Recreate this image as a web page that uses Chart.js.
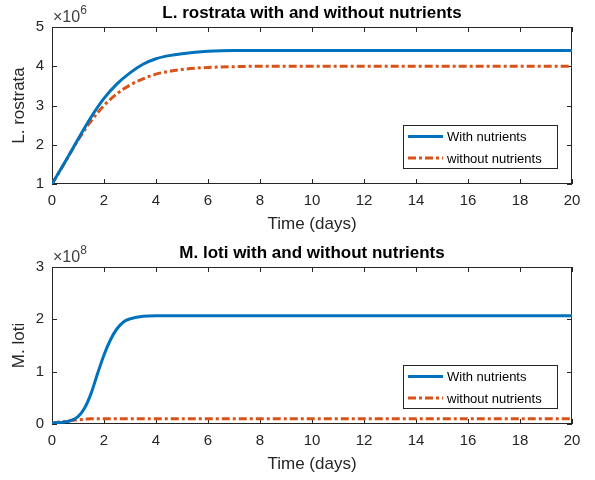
<!DOCTYPE html>
<html lang="en">
<head>
<meta charset="UTF-8">
<title>L. rostrata / M. loti</title>
<style>
  body { margin: 0; background: #fff; }
  .panel { position: absolute; left: 0; width: 595px; height: 240px; }
</style>
<script src="https://cdn.jsdelivr.net/npm/chart.js"></script>
</head>
<body>
<div class="panel" style="top:0"><canvas id="topChart"></canvas></div>
<div class="panel" style="top:240px"><canvas id="bottomChart"></canvas></div>
<script>
// values (top panel x10^6, bottom panel x10^8)
const timeTop = [0, 0.5, 1, 1.5, 2, 2.5, 3, 3.5, 4, 4.5, 5, 6, 7, 8, 10, 12, 14, 16, 18, 20];
const rostrataWith    = [1, 1.56, 2.14, 2.70, 3.18, 3.55, 3.83, 4.05, 4.19, 4.27, 4.32, 4.38, 4.40, 4.40, 4.40, 4.40, 4.40, 4.40, 4.40, 4.40];
const rostrataWithout = [1, 1.55, 2.12, 2.60, 3.00, 3.30, 3.52, 3.68, 3.80, 3.87, 3.92, 3.97, 3.99, 4.00, 4.00, 4.00, 4.00, 4.00, 4.00, 4.00];

const timeBottom = [0, 0.5, 0.75, 1, 1.25, 1.5, 1.75, 2, 2.25, 2.5, 2.75, 3, 3.25, 3.5, 4, 5, 6, 8, 10, 12, 14, 16, 18, 20];
const lotiWith    = [0.02, 0.04, 0.07, 0.14, 0.30, 0.58, 0.96, 1.32, 1.61, 1.82, 1.95, 2.01, 2.04, 2.06, 2.07, 2.07, 2.07, 2.07, 2.07, 2.07, 2.07, 2.07, 2.07, 2.07];
const lotiWithout = [0.02, 0.05, 0.07, 0.08, 0.09, 0.10, 0.10, 0.10, 0.10, 0.10, 0.10, 0.10, 0.10, 0.10, 0.10, 0.10, 0.10, 0.10, 0.10, 0.10, 0.10, 0.10, 0.10, 0.10];

const legendLabels = ['With nutrients', 'without nutrients'];
const xTicks = [0, 2, 4, 6, 8, 10, 12, 14, 16, 18, 20];

const BLUE = '#0072BD';
const ORANGE = '#D95319';
const AXIS = '#262626';
const FONT = "'Liberation Sans', Arial, sans-serif";
const DASHDOT = [8, 3, 3, 3];

function points(xs, ys) {
  return xs.map((x, i) => ({ x: x, y: ys[i] }));
}

// box round the axes + inward ticks, matlab style
const boxPlugin = {
  id: 'box',
  beforeDatasetsDraw(chart) {
    const ctx = chart.ctx, a = chart.chartArea;
    const xs = chart.scales.x, ys = chart.scales.y;
    ctx.save();
    ctx.strokeStyle = AXIS;
    ctx.lineWidth = 1;
    ctx.strokeRect(a.left + 0.5, a.top + 0.5, a.right - a.left - 1, a.bottom - a.top - 1);
    ctx.beginPath();
    xs.ticks.forEach(t => {
      const px = Math.round(xs.getPixelForValue(t.value)) + 0.5;
      ctx.moveTo(px, a.bottom); ctx.lineTo(px, a.bottom - 5);
      ctx.moveTo(px, a.top); ctx.lineTo(px, a.top + 5);
    });
    ys.ticks.forEach(t => {
      const py = Math.round(ys.getPixelForValue(t.value)) + 0.5;
      ctx.moveTo(a.left, py); ctx.lineTo(a.left + 5, py);
      ctx.moveTo(a.right, py); ctx.lineTo(a.right - 5, py);
    });
    ctx.stroke();
    ctx.restore();
  }
};

// "x10^n" label above the y axis
const exponentPlugin = {
  id: 'exponent',
  afterDraw(chart, args, opts) {
    const ctx = chart.ctx, a = chart.chartArea;
    ctx.save();
    ctx.fillStyle = '#404040';
    ctx.textBaseline = 'alphabetic';
    ctx.font = '16px ' + FONT;
    ctx.fillText('\u00d710', a.left + 1, a.top - 5);
    const w = ctx.measureText('\u00d710').width;
    ctx.font = '12px ' + FONT;
    ctx.fillText(String(opts.power), a.left + 1 + w, a.top - 13);
    ctx.restore();
  }
};

// legend box inside the axes, bottom right
const boxLegendPlugin = {
  id: 'boxLegend',
  afterDatasetsDraw(chart) {
    const ctx = chart.ctx, a = chart.chartArea;
    const w = 154, h = 43;
    const left = a.right - 15 - w, top = a.bottom - 16 - h;
    ctx.save();
    ctx.fillStyle = '#fff';
    ctx.fillRect(left, top, w, h);
    ctx.strokeStyle = AXIS;
    ctx.lineWidth = 1;
    ctx.strokeRect(left + 0.5, top + 0.5, w, h);
    ctx.font = '13px ' + FONT;
    ctx.textBaseline = 'middle';
    chart.data.datasets.forEach((ds, i) => {
      const y = top + 11.5 + i * 21.5;
      ctx.strokeStyle = ds.borderColor;
      ctx.lineWidth = ds.borderWidth;
      ctx.setLineDash(ds.borderDash || []);
      ctx.beginPath();
      ctx.moveTo(left + 5, y);
      ctx.lineTo(left + 40, y);
      ctx.stroke();
      ctx.setLineDash([]);
      ctx.fillStyle = '#000';
      ctx.fillText(ds.label, left + 44, y + 1);
    });
    ctx.restore();
  }
};

function makeChart(id, title, yTitle, power, yMin, yMax, times, withData, withoutData) {
  return new Chart(document.getElementById(id), {
    type: 'line',
    data: {
      datasets: [{
        label: legendLabels[0],
        data: points(times, withData),
        borderColor: BLUE,
        borderWidth: 3,
        pointRadius: 0,
        cubicInterpolationMode: 'monotone'
      }, {
        label: legendLabels[1],
        data: points(times, withoutData),
        borderColor: ORANGE,
        borderWidth: 3,
        borderDash: DASHDOT,
        pointRadius: 0,
        cubicInterpolationMode: 'monotone'
      }]
    },
    options: {
      responsive: true,
      maintainAspectRatio: false,
      animation: false,
      layout: { padding: { left: 0, right: 23, top: 0, bottom: 0 } },
      plugins: {
        legend: { display: false },
        tooltip: { enabled: false },
        title: {
          display: true,
          text: title,
          fullSize: false,
          color: '#000',
          font: { family: FONT, size: 17, weight: 'bold' },
          padding: { top: 3, bottom: 3.6 }
        },
        exponent: { power: power }
      },
      scales: {
        x: {
          type: 'linear',
          min: 0, max: 20,
          afterFit: s => { s.height = 56; },
          afterBuildTicks: s => { s.ticks = xTicks.map(v => ({ value: v })); },
          grid: { display: false, drawTicks: false },
          border: { display: false },
          ticks: { color: AXIS, padding: 8, font: { family: FONT, size: 15 } },
          title: {
            display: true, text: 'Time (days)', color: AXIS,
            font: { family: FONT, size: 17 }, padding: { top: 0, bottom: 5 }
          }
        },
        y: {
          min: yMin, max: yMax,
          afterFit: s => { s.width = 52; },
          grid: { display: false, drawTicks: false },
          border: { display: false },
          ticks: { stepSize: 1, color: AXIS, padding: 8, font: { family: FONT, size: 15 } },
          title: {
            display: true, text: yTitle, color: AXIS,
            font: { family: FONT, size: 17 }, padding: { top: 9, bottom: 0 }
          }
        }
      }
    },
    plugins: [boxPlugin, exponentPlugin, boxLegendPlugin]
  });
}

makeChart('topChart', 'L. rostrata with and without nutrients', 'L. rostrata', 6, 1, 5,
  timeTop, rostrataWith, rostrataWithout);
makeChart('bottomChart', 'M. loti with and without nutrients', 'M. loti', 8, 0, 3,
  timeBottom, lotiWith, lotiWithout);
</script>
</body>
</html>
